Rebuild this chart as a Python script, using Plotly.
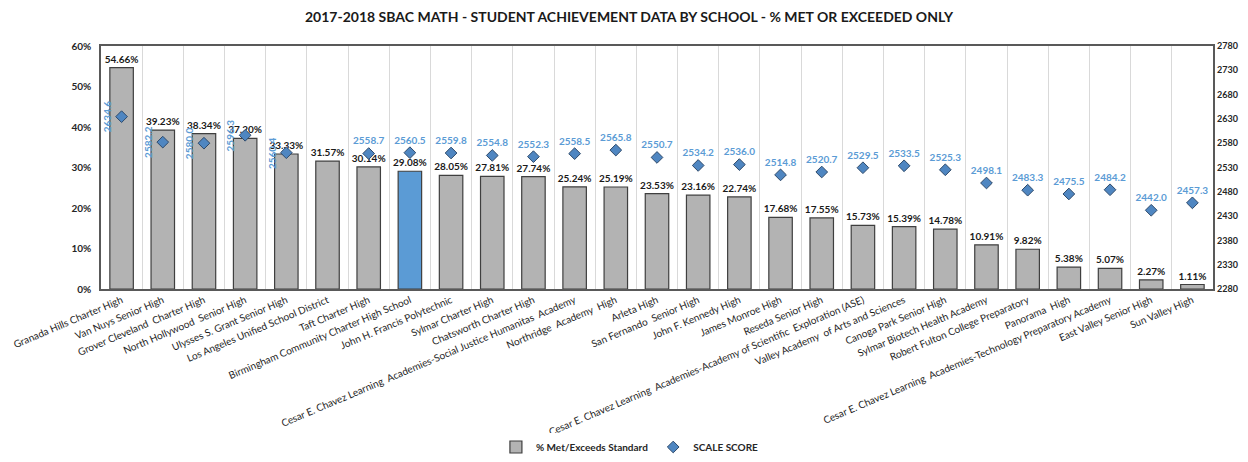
import plotly.graph_objects as go

schools = [
    "Granada Hills Charter High", "Van Nuys Senior High", "Grover Cleveland  Charter High",
    "North Hollywood  Senior High", "Ulysses S. Grant Senior High", "Los Angeles Unified School District",
    "Taft Charter High", "Birmingham Community Charter High School", "John H. Francis Polytechnic",
    "Sylmar Charter High", "Chatsworth Charter High",
    "Cesar E. Chavez Learning  Academies-Social Justice Humanitas  Academy",
    "Northridge  Academy  High", "Arleta High", "San Fernando  Senior High", "John F. Kennedy High",
    "James Monroe High", "Reseda Senior High",
    "Cesar E. Chavez Learning  Academies-Academy of Scientific  Exploration (ASE)",
    "Valley Academy  of Arts and Sciences", "Canoga Park Senior High", "Sylmar Biotech Health Academy",
    "Robert Fulton College Preparatory", "Panorama  High",
    "Cesar E. Chavez Learning  Academies-Technology Preparatory Academy",
    "East Valley Senior High", "Sun Valley High",
]
pct_met = [54.66, 39.23, 38.34, 37.20, 33.33, 31.57, 30.14, 29.08, 28.05, 27.81, 27.74, 25.24,
           25.19, 23.53, 23.16, 22.74, 17.68, 17.55, 15.73, 15.39, 14.78, 10.91, 9.82, 5.38,
           5.07, 2.27, 1.11]
scale_score = [2634.6, 2582.2, 2580.0, 2596.3, 2560.4, None, 2558.7, 2560.5, 2559.8, 2554.8,
               2552.3, 2558.5, 2565.8, 2550.7, 2534.2, 2536.0, 2514.8, 2520.7, 2529.5, 2533.5,
               2525.3, 2498.1, 2483.3, 2475.5, 2484.2, 2442.0, 2457.3]
highlight = "Birmingham Community Charter High School"
rotated_label_count = 5  # first labels drawn vertically beside marker

FONT = "Lato"
GRAY = "#B3B3B3"
BLUE_BAR = "#5B9BD5"
SCORE_BLUE = "#5B9BD5"

# page body has an 8px margin, so the figure is sized to fit the 1248x462 window
W, H = 1232, 446

bar_colors = [BLUE_BAR if s == highlight else GRAY for s in schools]
bar_vals = [v / 100 for v in pct_met]

fig = go.Figure()
fig.add_trace(go.Bar(
    x=schools, y=bar_vals, name="% Met/Exceeds Standard",
    marker=dict(color=bar_colors, line=dict(color="#3F3F3F", width=1.2)),
    texttemplate="%{y:.2%}", textposition="outside", constraintext="none", cliponaxis=False,
    textfont=dict(family=FONT, size=10, color="#1a1a1a", weight="bold"),
    showlegend=True,
))

score_text = ["" if (i < rotated_label_count or v is None) else f"{v:.1f}" for i, v in enumerate(scale_score)]
fig.add_trace(go.Scatter(
    x=schools, y=scale_score, yaxis="y2", mode="markers+text", name="SCALE SCORE",
    marker=dict(symbol="diamond", size=9, color="#4F86C1", line=dict(color="#2E4A6B", width=1)),
    text=score_text, textposition="top center", cliponaxis=False,
    textfont=dict(family=FONT, size=10, color=SCORE_BLUE, weight="bold"),
))

for i in range(rotated_label_count):
    fig.add_annotation(
        x=schools[i], y=scale_score[i], yref="y2", xref="x",
        text=f"{scale_score[i]:.1f}", textangle=-90, showarrow=False, xshift=-15,
        font=dict(family=FONT, size=10, color=SCORE_BLUE, weight="bold"),
    )

fig.update_layout(
    width=W, height=H,
    margin=dict(l=93, r=27, t=38, b=165),
    paper_bgcolor="white", plot_bgcolor="white",
    bargap=0.43,
    title=dict(text="2017-2018 SBAC MATH - STUDENT ACHIEVEMENT DATA BY SCHOOL - % MET OR EXCEEDED ONLY",
               x=621 / W, xanchor="center", yref="container", y=1 - 9 / H, yanchor="middle",
               font=dict(family=FONT, size=14, color="#1a1a1a", weight="bold")),
    font=dict(family=FONT, color="#262626"),
    xaxis=dict(type="category", range=[-0.5, len(schools) - 0.5], tickson="boundaries",
               showgrid=True, gridcolor="#D9D9D9", gridwidth=1,
               tickangle=-23, tickfont=dict(family=FONT, size=10, color="#1f1f1f"),
               showline=True, linecolor="#595959", linewidth=1.5, mirror=True, ticks="",
               automargin=False),
    yaxis=dict(range=[0, 0.6], dtick=0.1, tickformat=".0%", showgrid=False, zeroline=False,
               showline=True, linecolor="#595959", linewidth=1.5, mirror=True,
               ticklabelstandoff=6, tickfont=dict(family=FONT, size=10, color="#262626", weight="bold"),
               automargin=False),
    yaxis2=dict(range=[2280, 2780], tick0=2280, dtick=50, overlaying="y", side="right", showgrid=False,
                zeroline=False, showline=False, ticklabelstandoff=3,
                tickfont=dict(family=FONT, size=9, color="#262626", weight="bold"), automargin=False),
    legend=dict(orientation="h", x=586 / W, xanchor="center", yref="container", y=1 - 439 / H,
                yanchor="middle", font=dict(family=FONT, size=10, color="#262626", weight="bold"),
                itemwidth=30),
)

fig.write_html("out.html")
